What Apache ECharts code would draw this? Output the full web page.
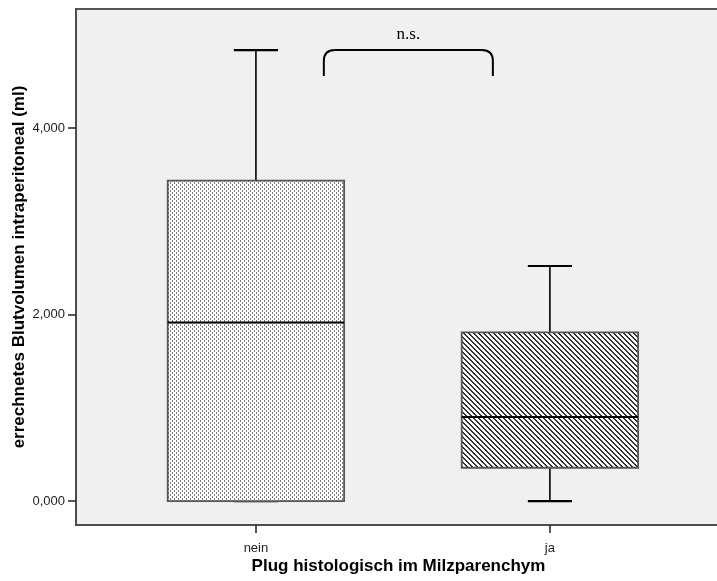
<!DOCTYPE html>
<html>
<head>
<meta charset="utf-8">
<script src="https://cdn.jsdelivr.net/npm/echarts@6/dist/echarts.min.js"></script>
<style>html,body{margin:0;padding:0;background:#fff;}#c{width:717px;height:581px;}</style>
</head>
<body>
<div id="c"></div>
<script>
// ---- data ----
const categories = ['nein', 'ja'];
const whiskerLow = [0, 0];
const quartile1 = [0, 357];
const medians = [1915, 900];
const quartile3 = [3435, 1809];
const whiskerHigh = [4836, 2520];
const yTicks = [0, 2000, 4000];
const yTickLabels = ['0,000', '2,000', '4,000'];
const sigLabel = 'n.s.';
const xTitle = 'Plug histologisch im Milzparenchym';
const yTitle = 'errechnetes Blutvolumen intraperitoneal (ml)';

// ---- fill patterns ----
function dotPattern() {
  const c = document.createElement('canvas'); c.width = 4; c.height = 4;
  const g = c.getContext('2d');
  g.fillStyle = '#ffffff'; g.fillRect(0, 0, 4, 4);
  g.fillStyle = '#7a7a7a';
  g.fillRect(0, 0, 1, 2); g.fillRect(2, 2, 1, 2);
  return c;
}
function hatchPattern() {
  const n = 5;
  const c = document.createElement('canvas'); c.width = n; c.height = n;
  const g = c.getContext('2d');
  g.fillStyle = '#ffffff'; g.fillRect(0, 0, n, n);
  g.fillStyle = '#333333';
  for (let y = 0; y < n; y++) for (let x = 0; x < n; x++) {
    if (((x - y) % n + n) % n < 2) g.fillRect(x, y, 1, 1);
  }
  return c;
}
const patterns = [dotPattern(), hatchPattern()];

const boxData = categories.map((c, i) => [i + 1, whiskerLow[i], quartile1[i], medians[i], quartile3[i], whiskerHigh[i]]);

const boxHalf = 0.30;
const capHalf = 0.075;

function renderBox(params, api) {
  const x = api.value(0);
  const lo = api.value(1), q1 = api.value(2), md = api.value(3), q3 = api.value(4), hi = api.value(5);
  const pL = api.coord([x - boxHalf, q3]);
  const pR = api.coord([x + boxHalf, q1]);
  const pc = (v) => api.coord([x, v]);
  const cl = (v) => api.coord([x - capHalf, v]);
  const cr = (v) => api.coord([x + capHalf, v]);
  const black = { stroke: '#000', lineWidth: 1.6 };
  return {
    type: 'group',
    children: [
      { type: 'line', shape: { x1: pc(q3)[0], y1: pc(q3)[1], x2: pc(hi)[0], y2: pc(hi)[1] }, style: black },
      { type: 'line', shape: { x1: pc(lo)[0], y1: pc(lo)[1], x2: pc(q1)[0], y2: pc(q1)[1] }, style: black },
      { type: 'line', shape: { x1: cl(hi)[0], y1: cl(hi)[1], x2: cr(hi)[0], y2: cr(hi)[1] }, style: { stroke: '#000', lineWidth: 2.2 } },
      { type: 'line', shape: { x1: cl(lo)[0], y1: cl(lo)[1], x2: cr(lo)[0], y2: cr(lo)[1] }, style: { stroke: '#000', lineWidth: 2.2 } },
      { type: 'rect', shape: { x: pL[0], y: pL[1], width: pR[0] - pL[0], height: pR[1] - pL[1] },
        style: { fill: { image: patterns[params.dataIndex], repeat: 'repeat' }, stroke: '#555', lineWidth: 1.8 } },
      { type: 'line', shape: { x1: pL[0], y1: pc(md)[1], x2: pR[0], y2: pc(md)[1] }, style: { stroke: '#000', lineWidth: 2 } }
    ]
  };
}

// bracket annotation (data coords)
const bracketData = [[1.231, 1.806, 4836, 4558]];
function renderBracket(params, api) {
  const a = api.coord([api.value(0), api.value(2)]);
  const b = api.coord([api.value(1), api.value(3)]);
  const x1 = a[0], x2 = b[0], yt = a[1], yb = b[1];
  const r = 11;
  const st = { stroke: '#000', lineWidth: 2, fill: null };
  return {
    type: 'group',
    children: [
      { type: 'line', shape: { x1: x1, y1: yb, x2: x1, y2: yt + r }, style: st },
      { type: 'bezierCurve', shape: { x1: x1, y1: yt + r, cpx1: x1, cpy1: yt, x2: x1 + r, y2: yt }, style: st },
      { type: 'line', shape: { x1: x1 + r, y1: yt, x2: x2 - r, y2: yt }, style: st },
      { type: 'bezierCurve', shape: { x1: x2 - r, y1: yt, cpx1: x2, cpy1: yt, x2: x2, y2: yt + r }, style: st },
      { type: 'line', shape: { x1: x2, y1: yt + r, x2: x2, y2: yb }, style: st },
      { type: 'text', x: (x1 + x2) / 2, y: yt - 7, style: { text: sigLabel, fill: '#000', font: '17px "Liberation Serif", serif', align: 'center', verticalAlign: 'bottom' } }
    ]
  };
}

const chart = echarts.init(document.getElementById('c'), null, { renderer: 'canvas' });
chart.setOption({
  animation: false,
  backgroundColor: '#ffffff',
  grid: { left: 76, right: -4, top: 9, bottom: 56, outerBoundsMode: 'none', containLabel: false,
    show: true, backgroundColor: '#f0f0f0', borderColor: '#555', borderWidth: 2 },
  xAxis: {
    type: 'value', min: 0.388, max: 2.582,
    name: xTitle, nameLocation: 'middle', nameGap: 33, nameMoveOverlap: false,
    nameTextStyle: { fontFamily: '"Liberation Sans", Arial, sans-serif', fontWeight: 'bold', fontSize: 17, color: '#000' },
    axisLine: { show: true, onZero: false, lineStyle: { color: '#4d4d4d', width: 2 } },
    axisTick: { show: true, customValues: [1, 2], length: 8, lineStyle: { color: '#222', width: 1.5 } },
    axisLabel: { show: true, customValues: [1, 2], margin: 17, formatter: v => categories[Math.round(v) - 1] || '',
      fontFamily: '"Liberation Sans", Arial, sans-serif', fontSize: 13, color: '#222' },
    splitLine: { show: false }
  },
  yAxis: {
    type: 'value', min: -257, max: 5276,
    name: yTitle, nameLocation: 'middle', nameGap: 48, nameMoveOverlap: false,
    nameTextStyle: { fontFamily: '"Liberation Sans", Arial, sans-serif', fontWeight: 'bold', fontSize: 17, color: '#000' },
    axisLine: { show: true, onZero: false, lineStyle: { color: '#4d4d4d', width: 2 } },
    axisTick: { show: true, customValues: yTicks, length: 8, lineStyle: { color: '#222', width: 1.5 } },
    axisLabel: { show: true, customValues: yTicks, margin: 11,
      formatter: v => { const i = yTicks.indexOf(v); return i >= 0 ? yTickLabels[i] : ''; },
      fontFamily: '"Liberation Sans", Arial, sans-serif', fontSize: 13, color: '#222' },
    splitLine: { show: false }
  },
  series: [
    { type: 'custom', renderItem: renderBox, data: boxData, encode: { x: 0, y: [1, 2, 3, 4, 5] }, clip: false, z: 3 },
    { type: 'custom', renderItem: renderBracket, data: bracketData, encode: { x: [0, 1], y: [2, 3] }, clip: false, z: 4 }
  ]
});
</script>
</body>
</html>
